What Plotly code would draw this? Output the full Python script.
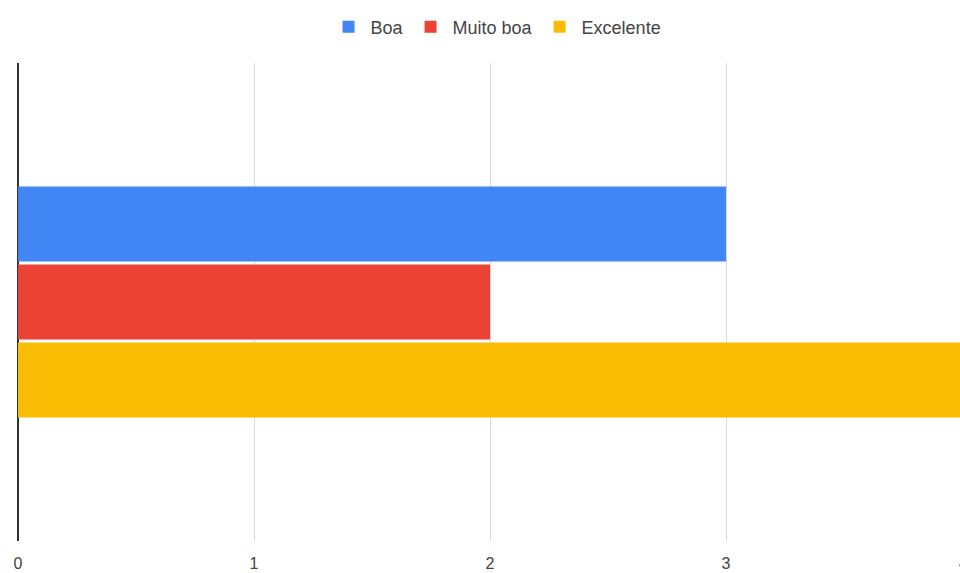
import plotly.graph_objects as go

# Ratings tally, one category with three rating levels
categories = [""]
series_names = ["Boa", "Muito boa", "Excelente"]
series_values = [[3], [2], [4]]
series_colors = ["#4285F4", "#EA4335", "#FBBC04"]
tick_values = [0, 1, 2, 3]
tick_labels = ["0", "1", "2", "3"]

FONT = "Arial, Liberation Sans, sans-serif"

fig = go.Figure()
for name, vals, color in zip(series_names, series_values, series_colors):
    fig.add_trace(go.Bar(
        y=categories, x=vals, name=name, orientation="h",
        marker=dict(color=color, line=dict(width=0)),
    ))

fig.update_layout(
    width=960, height=573,
    margin=dict(l=18, r=0, t=63, b=32),
    paper_bgcolor="white", plot_bgcolor="white",
    barmode="group", bargap=0.51, bargroupgap=0.04,
    font=dict(family=FONT, color="#444444", size=16),
    legend=dict(orientation="h", x=0.508, xanchor="center", y=0.953, yanchor="middle",
                yref="container", font=dict(family=FONT, size=18, color="#444444"),
                itemwidth=34, traceorder="normal"),
    showlegend=True,
    xaxis=dict(range=[0, 3.9915], tickvals=tick_values, ticktext=tick_labels,
               showgrid=True, gridcolor="#d9d9d9", gridwidth=1,
               zeroline=True, zerolinecolor="#333333", zerolinewidth=2,
               showline=False, ticks="", ticklabelstandoff=11,
               tickfont=dict(family=FONT, size=16, color="#444444")),
    yaxis=dict(autorange="reversed", showticklabels=False, showgrid=False,
               zeroline=False, showline=False, ticks=""),
)

# Axis label for 4 sits at the right edge of the page
fig.add_annotation(text="4", x=1.0, xref="paper", xanchor="center", xshift=3,
                   y=0, yref="paper", yanchor="top", yshift=-12,
                   showarrow=False, font=dict(family=FONT, size=16, color="#444444"))

fig.write_html("out.html")
